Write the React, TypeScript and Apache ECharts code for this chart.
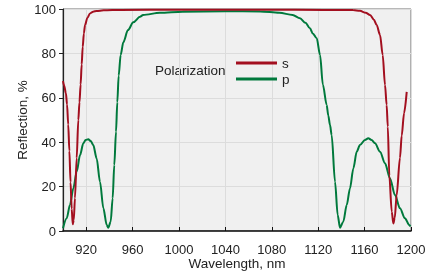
import React, { useEffect, useRef } from "react";
import * as echarts from "echarts";

const xTicks = [920, 960, 1000, 1040, 1080, 1120, 1160, 1200];
const yTicks = [0, 20, 40, 60, 80, 100];

const sWavelength = [900, 901, 902.5, 903.5, 904.5, 905.5, 906.5, 907.5, 908.4, 909.3, 910.3, 911.8, 913.2, 914.2, 915.2, 916.1, 917, 918, 919, 921, 923.3, 926, 929, 935, 950, 1000, 1100, 1150, 1156, 1161, 1164.7, 1168, 1170.4, 1173.3, 1175.6, 1177.6, 1179, 1180, 1181.3, 1183.4, 1184.8, 1186, 1187.6, 1190.5, 1192, 1194, 1196.3];
const sReflection = [67.5, 65.5, 62, 57, 48, 36, 22, 10, 3, 5, 14.8, 32.9, 50, 58, 66, 75, 83, 89, 92.8, 96, 98, 98.8, 99.1, 99.4, 99.6, 99.7, 99.7, 99.5, 99.2, 98.3, 97.3, 95.2, 92.8, 88.3, 79.3, 65.8, 56.8, 47, 25, 8.7, 3.4, 6, 16, 33, 43, 53, 62.7];

const pWavelength = [900, 903.2, 906, 908.9, 911.8, 914.7, 917.5, 919.5, 921.8, 924, 926.1, 929, 931.9, 934.8, 937.7, 939, 941.1, 942.8, 944.2, 945.7, 946.8, 948, 949.7, 952, 956, 960.6, 966.4, 969, 983.6, 1003, 1040, 1070, 1086.5, 1098, 1104.3, 1109, 1112.9, 1115.3, 1118.7, 1121.6, 1124, 1127.3, 1128.7, 1130.2, 1131.6, 1134.5, 1136.8, 1138.8, 1141.6, 1144.6, 1147.4, 1150.3, 1153.2, 1156, 1160.3, 1163.2, 1166, 1169, 1173.3, 1177.6, 1181.9, 1186.2, 1190.5, 1194.8, 1198.5, 1199.5];
const pReflection = [1.2, 5.7, 11.7, 19.2, 26.7, 34.2, 39.5, 41, 41.3, 40.5, 38.7, 32.7, 22.2, 10.2, 2.7, 1.5, 4.2, 14.7, 29.7, 44.7, 58, 70, 79.3, 85, 90.5, 94, 96.5, 97.3, 98.3, 98.8, 99, 98.9, 98.3, 97.3, 95.8, 93.8, 91.3, 89, 86.8, 79.3, 66, 56.8, 52, 47.7, 43.2, 22.2, 7.2, 1.5, 4.2, 11.7, 19.2, 28.2, 35.7, 38.7, 41, 41.8, 41, 39.5, 35.7, 30.5, 23.7, 16.2, 10.2, 5.7, 2.7, 2];

const FONT = "'Liberation Sans', Arial, sans-serif";
const RED = "#a30f1f";
const GREEN = "#00793c";

export default function App() {
  const ref = useRef<HTMLDivElement>(null);
  useEffect(() => {
    if (!ref.current) return;
    const chart = echarts.init(ref.current, undefined, { renderer: "svg" });
    const sData = sWavelength.map((w, i) => [w, sReflection[i]]);
    const pData = pWavelength.map((w, i) => [w, pReflection[i]]);
    chart.setOption({
      animation: false,
      textStyle: { fontFamily: FONT },
      grid: {
        left: 63, right: 21, top: 9, bottom: 42,
        outerBoundsMode: "none", containLabel: false,
        show: true, backgroundColor: "#f0f0f0", borderColor: "#707070", borderWidth: 1,
      },
      xAxis: {
        type: "value", min: 900, max: 1200,
        name: "Wavelength, nm", nameLocation: "middle", nameGap: 25, nameMoveOverlap: false,
        nameTextStyle: { fontSize: 13.5, color: "#222", fontFamily: FONT },
        axisLine: { show: true, onZero: false, lineStyle: { color: "#111", width: 1.5 } },
        axisTick: { show: true, inside: true, length: 4, customValues: xTicks, lineStyle: { color: "#111" } },
        axisLabel: { customValues: xTicks, margin: 12, fontSize: 13, color: "#222", fontFamily: FONT, formatter: (v: number) => String(v) },
        splitLine: { show: true, lineStyle: { color: "#dcdcdc", width: 1 } },
      },
      yAxis: {
        type: "value", min: 0, max: 100, interval: 20,
        name: "Reflection, %", nameLocation: "middle", nameGap: 34, nameMoveOverlap: false,
        nameTextStyle: { fontSize: 13.5, color: "#222", fontFamily: FONT },
        axisLine: { show: true, lineStyle: { color: "#222", width: 1.2 } },
        axisTick: { show: true, inside: false, length: 4, lineStyle: { color: "#222" } },
        axisLabel: { margin: 7, fontSize: 13, color: "#222", fontFamily: FONT, formatter: (v: number) => String(v) },
        splitLine: { show: true, lineStyle: { color: "#dcdcdc", width: 1 } },
      },
      legend: {
        data: ["s", "p"], orient: "vertical", left: 236, top: 56,
        icon: "rect", itemWidth: 41, itemHeight: 3, itemGap: 2, padding: 0,
        textStyle: { fontSize: 13.5, color: "#222", fontFamily: FONT, padding: [0, 0, 0, 0] },
      },
      graphic: [
        { type: "text", x: 155, y: 70, style: { text: "Polarization", font: `13.5px ${FONT}`, fill: "#222", textVerticalAlign: "middle" } },
      ],
      series: [
        { name: "p", type: "line", data: pData, showSymbol: false, smooth: 0.3, smoothMonotone: "x", lineStyle: { color: GREEN, width: 2 }, itemStyle: { color: GREEN } },
        { name: "s", type: "line", data: sData, showSymbol: false, smooth: 0.3, smoothMonotone: "x", lineStyle: { color: RED, width: 2 }, itemStyle: { color: RED } },
      ],
    });
    return () => chart.dispose();
  }, []);
  return <div ref={ref} style={{ position: "fixed", left: 0, top: 0, width: 432, height: 273 }} />;
}
